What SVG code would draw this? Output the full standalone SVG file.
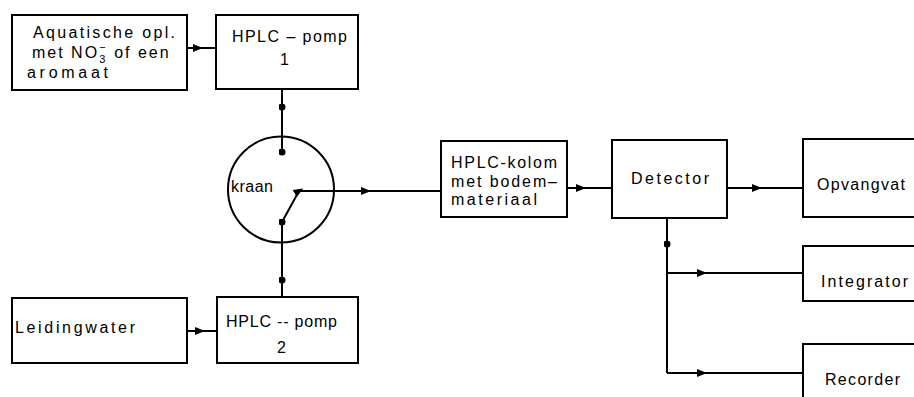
<svg xmlns="http://www.w3.org/2000/svg" width="914" height="397" viewBox="0 0 914 397">
<style>
.box{fill:#fff;stroke:#000;stroke-width:2}
.ln{fill:none;stroke:#000;stroke-width:2}
.t{font-family:"Liberation Sans",Arial,sans-serif;font-size:16px;fill:#000}
</style>
<defs>
<marker id="arr" viewBox="0 0 10 10" refX="5" refY="5" markerWidth="10" markerHeight="10" markerUnits="userSpaceOnUse" orient="auto">
<path d="M0,1 L10,5 L0,9 Z" fill="#000"/>
</marker>
<marker id="dot" viewBox="0 0 10 10" refX="5" refY="5" markerWidth="7" markerHeight="7" markerUnits="userSpaceOnUse">
<circle cx="5" cy="5" r="5" fill="#000"/>
</marker>
</defs>
<rect width="914" height="397" fill="#fff"/>

<g id="connectors">
<path class="ln" d="M187,48 L198,48 L216,48" marker-mid="url(#arr)"/>
<path class="ln" d="M282,89 L282,107 L282,152" marker-mid="url(#dot)" marker-end="url(#dot)"/>
<path class="ln" d="M187,331 L200,331 L217,331" marker-mid="url(#arr)"/>
<path class="ln" d="M282,297 L282,280 L282,222" marker-mid="url(#dot)" marker-end="url(#dot)"/>
<path class="ln" d="M282,222 L299,191 L366,191 L441,191" marker-mid="url(#arr)"/>
<path class="ln" d="M567,188 L581,188 L612,188" marker-mid="url(#arr)"/>
<path class="ln" d="M727,188 L757,188 L803,188" marker-mid="url(#arr)"/>
<path class="ln" d="M667,218 L667,244 L667,373" marker-mid="url(#dot)"/>
<path class="ln" d="M667,273 L702,273 L803,273" marker-mid="url(#arr)"/>
<path class="ln" d="M667,373 L702,373 L803,373" marker-mid="url(#arr)"/>
</g>

<g id="aquatische">
<rect class="box" x="12" y="15" width="175" height="75"/>
<text class="t" x="33" y="38" textLength="142" lengthAdjust="spacing">Aquatische opl.</text>
<text class="t" x="32" y="58" letter-spacing="2">met NO<tspan font-size="11" dy="5">3</tspan><tspan font-size="11" dx="-8" dy="-12">−</tspan><tspan dy="7"> of een</tspan></text>
<text class="t" x="27" y="78" textLength="81" lengthAdjust="spacing">aromaat</text>
</g>

<g id="pomp1">
<rect class="box" x="216" y="15" width="142" height="74"/>
<text class="t" x="232" y="42" textLength="115" lengthAdjust="spacing">HPLC – pomp</text>
<text class="t" x="280" y="65">1</text>
</g>

<g id="kraan">
<circle class="ln" cx="281" cy="189.5" r="53"/>
<text class="t" x="231" y="192" textLength="42" lengthAdjust="spacing" font-size="15">kraan</text>
</g>

<g id="leidingwater">
<rect class="box" x="12" y="298" width="175" height="65"/>
<text class="t" x="15" y="333" textLength="120" lengthAdjust="spacing">Leidingwater</text>
</g>

<g id="pomp2">
<rect class="box" x="217" y="297" width="141" height="66"/>
<text class="t" x="226" y="327" textLength="111" lengthAdjust="spacing">HPLC -- pomp</text>
<text class="t" x="277" y="353">2</text>
</g>

<g id="kolom">
<rect class="box" x="441" y="141" width="126" height="76"/>
<text class="t" x="451" y="168" textLength="106" lengthAdjust="spacing">HPLC-kolom</text>
<text class="t" x="451" y="187" textLength="106" lengthAdjust="spacing">met bodem–</text>
<text class="t" x="451" y="205" textLength="86" lengthAdjust="spacing">materiaal</text>
</g>

<g id="detector">
<rect class="box" x="612" y="140" width="115" height="78"/>
<text class="t" x="631" y="184" textLength="78" lengthAdjust="spacing">Detector</text>
</g>

<g id="opvangvat">
<rect class="box" x="803" y="139" width="130" height="78"/>
<text class="t" x="817" y="190" textLength="88" lengthAdjust="spacing">Opvangvat</text>
</g>

<g id="integrator">
<rect class="box" x="803" y="246" width="130" height="55"/>
<text class="t" x="821" y="287" textLength="87" lengthAdjust="spacing">Integrator</text>
</g>

<g id="recorder">
<rect class="box" x="803" y="344" width="130" height="70"/>
<text class="t" x="825" y="385" textLength="75" lengthAdjust="spacing">Recorder</text>
</g>
</svg>
